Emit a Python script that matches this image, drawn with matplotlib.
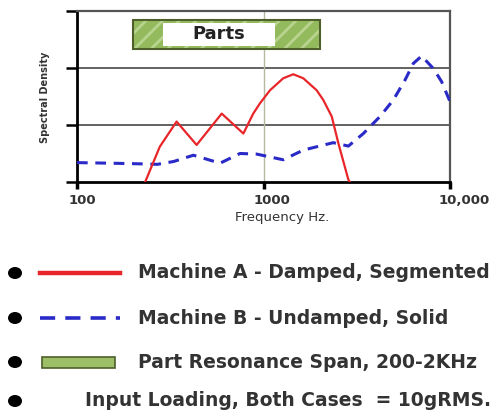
import matplotlib
matplotlib.use("Agg")
import matplotlib.pyplot as plt
from matplotlib.patches import Rectangle, Ellipse
from matplotlib.lines import Line2D
import matplotlib.transforms as mtransforms

# ---- data ----
freq_a = [232, 278, 342, 438, 597, 780, 881, 957, 1084, 1276, 1445, 1634, 1927, 2091, 2322, 2520, 2852, 2900]
dens_a = [0.0, 0.62, 1.06, 0.65, 1.20, 0.85, 1.20, 1.38, 1.61, 1.82, 1.89, 1.82, 1.61, 1.44, 1.15, 0.68, 0.04, 0.0]

freq_b = [100, 150, 210, 270, 330, 421, 585, 748, 918, 1276, 1634, 2366, 2852, 3430, 4216, 4969, 5741, 6357, 7046, 8147, 9018, 10000]
dens_b = [0.34, 0.33, 0.32, 0.31, 0.36, 0.47, 0.33, 0.50, 0.49, 0.39, 0.56, 0.69, 0.63, 0.85, 1.15, 1.44, 1.79, 2.08, 2.21, 1.99, 1.76, 1.41]

span_lo, span_hi = 200, 2000
xticks = [100, 1000, 10000]
xtick_labels = ["100", "1000", "10,000"]
legend_labels = ["Machine A - Damped, Segmented",
                 "Machine B - Undamped, Solid",
                 "Part Resonance Span, 200-2KHz",
                 "Input Loading, Both Cases  = 10gRMS."]

plt.rcParams["hatch.color"] = "#b8d48e"
plt.rcParams["hatch.linewidth"] = 2.0

W, H = 496, 416
fig = plt.figure(figsize=(W / 100, H / 100), dpi=100)
ax = fig.add_axes([77 / W, 1 - 182 / H, (450 - 77) / W, (182 - 11) / H])

ax.set_xscale("log")
ax.set_xlim(100, 10000)
ax.set_ylim(0, 3)

# grid
for yv in [1, 2]:
    ax.axhline(yv, color="#555555", lw=1.3, zorder=1)
ax.axvline(1000, color="#b8b8a0", lw=1.0, zorder=1)

# parts span box
ax.add_patch(Rectangle((span_lo, 2.33), span_hi - span_lo, 0.51, facecolor="#94ba5e",
                       hatch="//", lw=0, zorder=3))
ax.add_patch(Rectangle((span_lo, 2.33), span_hi - span_lo, 0.51, facecolor="none",
                       edgecolor="#4f5f2a", lw=1.5, zorder=3.5))
ax.add_patch(Rectangle((289, 2.38), 1153 - 289, 0.41, facecolor="white",
                       edgecolor="none", zorder=4))
ax.text(577, 2.59, "Parts", ha="center", va="center", fontsize=13,
        fontweight="bold", color="#222222", zorder=5)

ax.plot(freq_a, dens_a, color="#e8262a", lw=1.6, zorder=6)
ax.plot(freq_b, dens_b, color="#2a2ac8", lw=2.2, ls=(0, (3.5, 2.5)), zorder=5)

# spines / ticks
for s in ["left", "bottom"]:
    ax.spines[s].set_linewidth(2.0)
    ax.spines[s].set_color("black")
for s in ["top", "right"]:
    ax.spines[s].set_linewidth(1.6)
    ax.spines[s].set_color("#555555")

ax.set_yticks([0, 1, 2, 3])
ax.set_yticklabels([])
ax.tick_params(axis="y", direction="out", length=8, width=1.8, color="black")
ax.set_xticks(xticks)
ax.set_xticks([], minor=True)
ax.set_xticklabels(xtick_labels, fontsize=9.5, fontweight="bold", color="#333333")
ax.tick_params(axis="x", direction="out", length=5, width=2.5, color="black", pad=4)
offs = [5, 8, 14]
for lab, o in zip(ax.get_xticklabels(), offs):
    lab.set_transform(lab.get_transform() +
                      mtransforms.ScaledTranslation(o / 100, 0, fig.dpi_scale_trans))

fig.text(45 / W, 1 - 97 / H, "Spectral Density", rotation=90, ha="center", va="center",
         fontsize=7, fontweight="bold", color="#333333")
fig.text(282 / W, 1 - 218 / H, "Frequency Hz.", ha="center", va="center",
         fontsize=9.5, color="#333333")

# ---- custom legend below ----
def fx(x):
    return x / W

def fy(y):
    return 1 - y / H

rows_y = [273, 318, 362, 401]
for y in rows_y:
    fig.add_artist(Ellipse((fx(15), fy(y)), 14 / W, 12 / H, transform=fig.transFigure,
                           facecolor="black", edgecolor="none"))

fig.add_artist(Line2D([fx(40), fx(120)], [fy(rows_y[0])] * 2, transform=fig.transFigure,
                      color="#e8262a", lw=3.2))
fig.add_artist(Line2D([fx(40), fx(120)], [fy(rows_y[1])] * 2, transform=fig.transFigure,
                      color="#2a2ac8", lw=2.6, ls=(0, (4.2, 2.8))))
fig.add_artist(Rectangle((fx(42), fy(368)), 73 / W, 11 / H, transform=fig.transFigure,
                         facecolor="#9cbf68", edgecolor="#4f5f2a", lw=1.2))

text_x = [138, 138, 138, 85]
for x, y, t in zip(text_x, rows_y, legend_labels):
    fig.text(fx(x), fy(y), t, ha="left", va="center", fontsize=13.5,
             fontweight="bold", color="#333333")

fig.savefig("out.png", dpi=100)
